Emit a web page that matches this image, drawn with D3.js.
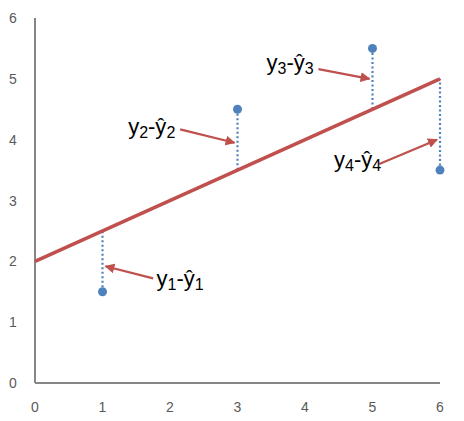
<!DOCTYPE html>
<html>
<head>
<meta charset="utf-8">
<script src="https://cdn.jsdelivr.net/npm/d3@7"></script>
<style>
  body { margin: 0; background: #fff; }
  svg { font-family: "Liberation Sans", "DejaVu Sans", sans-serif; }
</style>
</head>
<body>
<div id="chart"></div>
<script>
// Data
const xTicks = [0, 1, 2, 3, 4, 5, 6];
const yTicks = [0, 1, 2, 3, 4, 5, 6];
const pointsX = [1, 3, 5, 6];
const pointsY = [1.5, 4.5, 5.5, 3.5];
const lineIntercept = 2;
const lineSlope = 0.5;
const labelIdx = ['1', '2', '3', '4'];
// label anchor (data coords) and arrow target height (data coords)
const labelX = [1.8, 1.38, 3.43, 4.43];
const labelY = [1.6, 4.1, 5.15, 3.55];
const arrowFromX = [1.75, 2.15, 4.2, 5.1];
const arrowFromY = [1.72, 4.17, 5.16, 3.6];
const arrowToY = [1.92, 3.95, 5.0, 4.0];

const width = 464, height = 421;
const margin = { left: 35, right: 24, top: 18, bottom: 38 };

const svg = d3.select('#chart').append('svg')
  .attr('width', width).attr('height', height);

const x = d3.scaleLinear().domain([0, 6]).range([margin.left, width - margin.right]);
const y = d3.scaleLinear().domain([0, 6]).range([height - margin.bottom, margin.top]);

const red = '#c0504d';
const blue = '#4f81bd';
const axisGrey = '#868686';
const textGrey = '#595959';

svg.append('defs').append('marker')
  .attr('id', 'arrow')
  .attr('viewBox', '0 0 10 10')
  .attr('refX', 9).attr('refY', 5)
  .attr('markerWidth', 4.5).attr('markerHeight', 4.5)
  .attr('orient', 'auto')
  .append('path').attr('d', 'M0,0 L10,5 L0,10 z').attr('fill', red);

// axes
svg.append('line')
  .attr('x1', x(0)).attr('x2', x(0)).attr('y1', y(0)).attr('y2', y(6))
  .attr('stroke', axisGrey).attr('stroke-width', 2);
svg.append('line')
  .attr('x1', x(0)).attr('x2', x(6)).attr('y1', y(0)).attr('y2', y(0))
  .attr('stroke', axisGrey).attr('stroke-width', 2);

svg.selectAll('.xt').data(xTicks).enter().append('text')
  .attr('x', d => x(d)).attr('y', y(0) + 29)
  .attr('text-anchor', 'middle').attr('font-size', 14).attr('fill', textGrey)
  .text(d => d);
svg.selectAll('.yt').data(yTicks).enter().append('text')
  .attr('x', 13).attr('y', d => y(d) + 5)
  .attr('text-anchor', 'middle').attr('font-size', 14).attr('fill', textGrey)
  .text(d => d);

// residuals
const pts = pointsX.map((px, i) => ({ x: px, y: pointsY[i], fit: lineIntercept + lineSlope * px }));
svg.selectAll('.res').data(pts).enter().append('line')
  .attr('x1', d => x(d.x)).attr('x2', d => x(d.x))
  .attr('y1', d => y(d.y)).attr('y2', d => y(d.fit))
  .attr('stroke', blue).attr('stroke-width', 2.2).attr('stroke-dasharray', '2,2.5');

// regression line
svg.append('line')
  .attr('x1', x(0)).attr('y1', y(lineIntercept))
  .attr('x2', x(6)).attr('y2', y(lineIntercept + lineSlope * 6))
  .attr('stroke', red).attr('stroke-width', 3.5);

// points
svg.selectAll('.pt').data(pts).enter().append('circle')
  .attr('cx', d => x(d.x)).attr('cy', d => y(d.y)).attr('r', 4.5)
  .attr('fill', blue);

// arrows
svg.selectAll('.arr').data(pts).enter().append('line')
  .attr('x1', (d, i) => x(arrowFromX[i])).attr('y1', (d, i) => y(arrowFromY[i]))
  .attr('x2', (d, i) => x(d.x) + (i === 0 ? 3 : -3)).attr('y2', (d, i) => y(arrowToY[i]))
  .attr('stroke', red).attr('stroke-width', 2.2).attr('marker-end', 'url(#arrow)');

// labels
const lbl = svg.selectAll('.lbl').data(labelIdx).enter().append('text')
  .attr('x', (d, i) => x(labelX[i])).attr('y', (d, i) => y(labelY[i]))
  .attr('font-size', 22).attr('fill', '#000');
lbl.append('tspan').text('y');
lbl.append('tspan').attr('font-size', 16).attr('dy', 4).text(d => d);
lbl.append('tspan').attr('dy', -4).text('-ŷ');
lbl.append('tspan').attr('font-size', 16).attr('dy', 4).text(d => d);
</script>
</body>
</html>
